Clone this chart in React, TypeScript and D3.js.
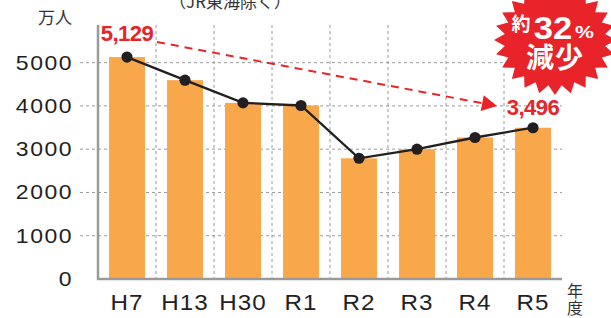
import { useEffect, useRef } from 'react';
import * as d3 from 'd3';

const years = ['H7', 'H13', 'H30', 'R1', 'R2', 'R3', 'R4', 'R5'];
const riders = [5129, 4595, 4070, 4010, 2790, 3000, 3270, 3496];
const yTicks = [0, 1000, 2000, 3000, 4000, 5000];
const highlights = [
  { year: 'H7', label: '5,129', dy: -16 },
  { year: 'R5', label: '3,496', dy: -13 },
];

const RED = '#E8232A';
const BAR = '#F8A84B';
const INK = '#231F20';
const GRID = '#9A9A9A';
const SANS = '"Liberation Sans", Arial, sans-serif';
const JP = '"Noto Sans CJK JP", sans-serif';

export default function App() {
  const ref = useRef<SVGSVGElement>(null);

  useEffect(() => {
    const width = 611, height = 318;
    const left = 98, right = 562, top = 25, bottom = 279;
    const svg = d3.select(ref.current);
    svg.selectAll('*').remove();
    svg.attr('width', width).attr('height', height);

    const x = d3.scaleBand<string>().domain(years).range([left, right])
      .paddingInner(0.38).paddingOuter(0.19);
    const y = d3.scaleLinear().domain([0, 5870]).range([bottom, top]);

    // grid
    svg.append('g').selectAll('line')
      .data(yTicks.filter(d => d > 0))
      .join('line')
      .attr('x1', 80).attr('x2', right)
      .attr('y1', d => y(d)).attr('y2', d => y(d))
      .attr('stroke', GRID).attr('stroke-width', 1).attr('stroke-dasharray', '3,3');

    const gap = (x.step() - x.bandwidth()) / 2;
    svg.append('g').selectAll('line')
      .data(years.slice(1))
      .join('line')
      .attr('x1', d => x(d)! - gap).attr('x2', d => x(d)! - gap)
      .attr('y1', top).attr('y2', bottom)
      .attr('stroke', GRID).attr('stroke-width', 1).attr('stroke-dasharray', '3,3');

    // y labels
    svg.append('g').selectAll('text')
      .data(yTicks)
      .join('text')
      .attr('transform', d => `translate(73,${y(d) + 7}) scale(1.15,1)`)
      .attr('text-anchor', 'end')
      .attr('font-family', SANS).attr('font-size', 20).attr('font-weight', 'normal')
      .attr('letter-spacing', 1.3)
      .attr('fill', INK)
      .text(d => d);

    // bars
    svg.append('g').selectAll('rect')
      .data(years)
      .join('rect')
      .attr('x', d => x(d)!)
      .attr('width', x.bandwidth())
      .attr('y', (d, i) => y(riders[i]))
      .attr('height', (d, i) => bottom - y(riders[i]))
      .attr('fill', BAR);

    // axes
    svg.append('line').attr('x1', left).attr('x2', left).attr('y1', top).attr('y2', bottom + 1)
      .attr('stroke', GRID).attr('stroke-width', 2.5);
    svg.append('line').attr('x1', left - 1).attr('x2', right).attr('y1', bottom).attr('y2', bottom)
      .attr('stroke', GRID).attr('stroke-width', 2.5);

    // x labels
    svg.append('g').selectAll('text')
      .data(years)
      .join('text')
      .attr('transform', d => `translate(${x(d)! + x.bandwidth() / 2},310) scale(1.1,1)`)
      .attr('text-anchor', 'middle')
      .attr('font-family', SANS).attr('font-size', 22).attr('letter-spacing', 1)
      .attr('fill', INK)
      .text(d => d);

    // line + dots
    const cx = (d: string) => x(d)! + x.bandwidth() / 2;
    const line = d3.line<string>().x(cx).y((d, i) => y(riders[i]));
    svg.append('path').datum(years).attr('d', line)
      .attr('fill', 'none').attr('stroke', INK).attr('stroke-width', 2.3);
    svg.append('g').selectAll('circle')
      .data(years)
      .join('circle')
      .attr('cx', cx).attr('cy', (d, i) => y(riders[i])).attr('r', 5.6)
      .attr('fill', INK);

    // dashed arrow
    const p0 = [157, 42], p1 = [497, 106];
    const ang = Math.atan2(p1[1] - p0[1], p1[0] - p0[0]);
    const back = [p1[0] - 15 * Math.cos(ang), p1[1] - 15 * Math.sin(ang)];
    svg.append('line')
      .attr('x1', p0[0]).attr('y1', p0[1]).attr('x2', back[0]).attr('y2', back[1])
      .attr('stroke', RED).attr('stroke-width', 2).attr('stroke-dasharray', '8,6');
    const nx = -Math.sin(ang) * 8, ny = Math.cos(ang) * 8;
    svg.append('path')
      .attr('d', `M${p1[0]},${p1[1]}L${back[0] + nx},${back[1] + ny}L${back[0] - nx},${back[1] - ny}Z`)
      .attr('fill', RED);

    // highlight labels
    svg.append('g').selectAll('text')
      .data(highlights)
      .join('text')
      .attr('x', d => cx(d.year))
      .attr('y', d => y(riders[years.indexOf(d.year)]) + d.dy)
      .attr('text-anchor', 'middle')
      .attr('font-family', SANS).attr('font-size', 22).attr('font-weight', 'bold')
      .attr('letter-spacing', -0.5)
      .attr('fill', RED)
      .text(d => d.label);

    // unit labels
    svg.append('text').attr('x', 55).attr('y', 24).attr('text-anchor', 'middle')
      .attr('font-family', JP).attr('font-size', 17).attr('fill', '#333').text('万人');
    svg.append('text').attr('x', 230).attr('y', 8).attr('text-anchor', 'middle')
      .attr('font-family', JP).attr('font-size', 17).attr('fill', '#333').text('（JR東海除く）');
    svg.append('g').selectAll('text')
      .data(['年', '度'])
      .join('text')
      .attr('x', 575).attr('y', (d, i) => 297 + i * 17)
      .attr('text-anchor', 'middle')
      .attr('font-family', JP).attr('font-size', 16).attr('fill', '#333')
      .text(d => d);

    // badge
    const n = 24, bx = 555, by = 40;
    const star = d3.range(n * 2).map(i => {
      const a = (i * Math.PI) / n - Math.PI / 2;
      const k = i % 2 === 0 ? 1 : 0.83;
      return [bx + Math.cos(a) * 61 * k, by + Math.sin(a) * 55 * k] as [number, number];
    });
    svg.append('path')
      .attr('d', d3.line()(star) + 'Z')
      .attr('fill', RED).attr('stroke', '#fff').attr('stroke-width', 4)
      .attr('stroke-linejoin', 'round').attr('paint-order', 'stroke');
    const badge = svg.append('g').attr('fill', '#fff').attr('font-weight', 'bold');
    badge.append('text').attr('x', 521).attr('y', 31).attr('text-anchor', 'middle')
      .attr('font-family', JP).attr('font-size', 19).text('約');
    badge.append('text').attr('transform', 'translate(553,39) scale(1.08,1)').attr('text-anchor', 'middle')
      .attr('font-family', SANS).attr('font-size', 32).text('32');
    badge.append('text').attr('transform', 'translate(575,38) scale(1.25,1)').attr('text-anchor', 'start')
      .attr('font-family', SANS).attr('font-size', 17).text('%');
    badge.append('text').attr('x', 555).attr('y', 68).attr('text-anchor', 'middle')
      .attr('font-family', JP).attr('font-size', 28).attr('letter-spacing', 1).text('減少');
  }, []);

  return <svg ref={ref} style={{ position: 'absolute', left: 0, top: 0 }}></svg>;
}
